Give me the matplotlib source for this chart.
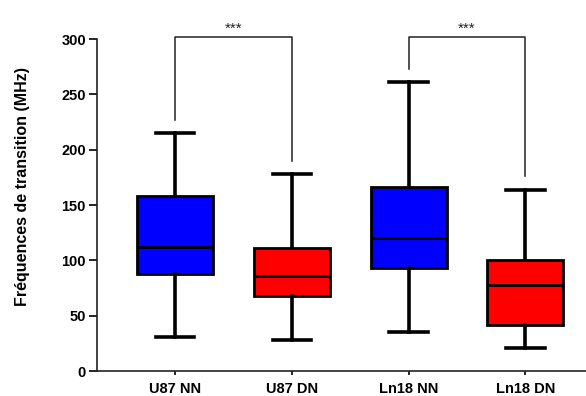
import matplotlib
matplotlib.use("Agg")
import matplotlib.pyplot as plt

plt.rcParams['font.family'] = ['Liberation Sans', 'DejaVu Sans']

groups = ["U87 NN", "U87 DN", "Ln18 NN", "Ln18 DN"]
colors = ["#0000FF", "#FF0000", "#0000FF", "#FF0000"]

# min, q1, median, q3, max (MHz)
whislo = [31, 28, 35, 21]
q1 = [88, 68, 93, 42]
med = [112, 86, 120, 78]
q3 = [158, 111, 166, 100]
whishi = [215, 178, 261, 164]

# significance brackets: (left group, right group, label)
pairs = [(0, 1, "***"), (2, 3, "***")]
bracket_y = 302
bracket_gap = 12

fig = plt.figure(figsize=(5.86, 3.96), dpi=100)
ax = fig.add_axes([0.1655, 0.0631, 0.8345, 0.838])

stats = []
for i, name in enumerate(groups):
    stats.append(dict(label=name, whislo=whislo[i], q1=q1[i], med=med[i],
                      q3=q3[i], whishi=whishi[i], fliers=[]))

bp = ax.bxp(stats, positions=range(len(groups)), widths=0.65,
            patch_artist=True, showfliers=False,
            boxprops=dict(linewidth=2.0, edgecolor='black'),
            medianprops=dict(color='black', linewidth=2.0),
            whiskerprops=dict(color='black', linewidth=2.6),
            capprops=dict(color='black', linewidth=2.6),
            capwidths=0.33)
for patch, c in zip(bp['boxes'], colors):
    patch.set_facecolor(c)

for a, b, lab in pairs:
    ya = whishi[a] + bracket_gap
    yb = whishi[b] + bracket_gap
    ax.plot([a, a, b, b], [ya, bracket_y, bracket_y, yb], color='#222222',
            linewidth=1.1, clip_on=False)
    ax.text((a + b) / 2, bracket_y + 1, lab, ha='center', va='bottom',
            fontsize=11, color='#222222', clip_on=False)

ax.set_xlim(-0.67, 3.52)
ax.set_ylim(0, 300)
ax.set_yticks(range(0, 301, 50))
ax.set_xticks(range(len(groups)))
ax.set_xticklabels(groups, fontsize=10.5, fontweight='bold')
ax.tick_params(axis='y', labelsize=10.5, length=6, width=1.2, pad=2)
ax.tick_params(axis='x', length=3, width=1.2, pad=5)
for lab in ax.get_yticklabels():
    lab.set_fontweight('bold')

ax.spines['top'].set_visible(False)
ax.spines['right'].set_visible(False)
ax.spines['left'].set_linewidth(1.2)
ax.spines['bottom'].set_linewidth(1.2)
ax.spines['left'].set_color('#222222')
ax.spines['bottom'].set_color('#222222')

ax.set_ylabel("Fréquences de transition (MHz)", fontsize=11.5,
              fontweight='bold')
ax.yaxis.set_label_coords(-0.136, 0.557)

fig.savefig("out.png", dpi=100)
